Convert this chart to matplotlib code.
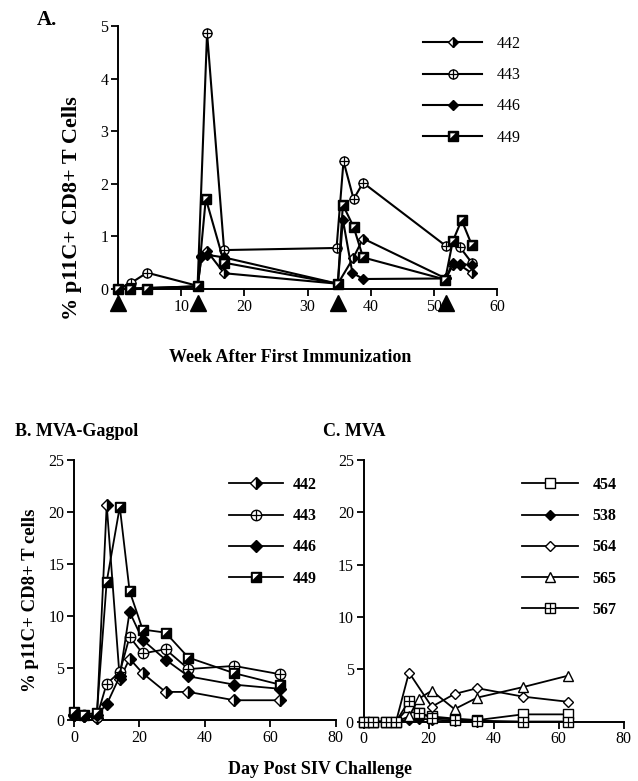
import matplotlib
matplotlib.use("Agg")
import matplotlib.pyplot as plt
from matplotlib.path import Path
import numpy as np

plt.rcParams['font.family'] = ['Liberation Serif', 'DejaVu Serif']

# ---------------- Panel A data (weeks) ----------------
weeks_442 = [0, 12.6, 13.2, 14.1, 16.8, 34.8, 37.2, 38.8, 51.9, 53.0, 54.2, 56.0]
vals_442 = [0, 0.05, 0.60, 0.72, 0.30, 0.10, 0.58, 0.96, 0.20, 0.45, 0.45, 0.30]
weeks_443 = [0, 2.0, 4.6, 12.6, 14.1, 16.8, 34.6, 35.7, 37.3, 38.8, 51.9, 53.0, 54.1, 56.0]
vals_443 = [0, 0.11, 0.31, 0.06, 4.87, 0.74, 0.78, 2.43, 1.71, 2.02, 0.82, 0.91, 0.80, 0.50]
weeks_446 = [0, 12.6, 13.2, 14.1, 16.8, 34.8, 35.6, 37.1, 38.8, 51.9, 53.0, 54.2, 56.0]
vals_446 = [0, 0.05, 0.62, 0.65, 0.60, 0.10, 1.32, 0.31, 0.19, 0.20, 0.50, 0.48, 0.45]
weeks_449 = [0, 1.9, 4.6, 12.6, 13.9, 16.8, 34.8, 35.6, 37.3, 38.8, 51.8, 53.0, 54.4, 56.0]
vals_449 = [0, 0, 0, 0.05, 1.72, 0.50, 0.10, 1.60, 1.18, 0.60, 0.18, 0.91, 1.31, 0.84]
immun_weeks = [0, 12.6, 34.8, 51.9]
labels_A = ['442', '443', '446', '449']

# ---------------- Panel B data (days) ----------------
days = [0, 3, 7, 10, 14, 17, 21, 28, 35, 49, 63]
b_442 = [0.5, 0.4, 0.2, 20.7, 3.9, 5.9, 4.5, 2.7, 2.7, 1.9, 1.9]
b_443 = [0.5, 0.5, 0.3, 3.5, 4.6, 8.0, 6.4, 6.8, 4.9, 5.2, 4.4]
b_446 = [0.5, 0.4, 0.5, 1.5, 4.2, 10.4, 7.7, 5.8, 4.2, 3.4, 3.0]
b_449 = [0.8, 0.5, 0.7, 13.3, 20.5, 12.4, 8.7, 8.4, 6.0, 4.5, 3.4]
labels_B = ['442', '443', '446', '449']

# ---------------- Panel C data (days) ----------------
c_454 = [0, 0, 0, 0, 1.4, 0.8, 0.5, 0.3, 0.15, 0.7, 0.7]
c_538 = [0, 0, 0, 0, 0.2, 0.3, 0.2, 0.1, 0.0, 0.0, 0.0]
days_564 = [0, 3, 7, 10, 14, 21, 28, 35, 49, 63]
c_564 = [0, 0, 0, 0, 4.7, 1.43, 2.65, 3.2, 2.4, 1.9]
c_565 = [0, 0, 0, 0, 0.5, 2.2, 2.96, 1.2, 2.3, 3.3, 4.4]
c_567 = [0, 0, 0, 0, 2.0, 0.8, 0.4, 0.2, 0.1, 0.0, 0.0]
labels_C = ['454', '538', '564', '565', '567']

LW = 1.3
tri_path = Path([(-1, 1), (0.6, 1), (-1, -0.6), (-1, 1)],
                [Path.MOVETO, Path.LINETO, Path.LINETO, Path.CLOSEPOLY])


def series(ax, x, y, kind, ms, lw=LW):
    common = dict(color='black', lw=lw, clip_on=False, zorder=3)
    if kind == 'halfdiamond':
        h = ax.plot(x, y, marker='D', ms=ms * 0.75, mfc='black', mfcalt='white',
                    fillstyle='right', mec='black', mew=1, **common)[0]
        return h
    if kind == 'diamond':
        return ax.plot(x, y, marker='D', ms=ms * 0.75, mfc='black', mec='black', mew=1, **common)[0]
    if kind == 'opendiamond':
        return ax.plot(x, y, marker='D', ms=ms * 0.75, mfc='white', mec='black', mew=1, **common)[0]
    if kind == 'triangle':
        return ax.plot(x, y, marker='^', ms=ms, mfc='white', mec='black', mew=1, **common)[0]
    if kind == 'square':
        return ax.plot(x, y, marker='s', ms=ms, mfc='white', mec='black', mew=1, **common)[0]
    if kind == 'oplus':
        a = ax.plot(x, y, marker='o', ms=ms, mfc='white', mec='black', mew=1, **common)[0]
        b = ax.plot(x, y, ls='none', marker='+', ms=ms, mec='black', mew=0.9, clip_on=False, zorder=4)[0]
        return (a, b)
    if kind == 'boxplus':
        a = ax.plot(x, y, marker='s', ms=ms, mfc='white', mec='black', mew=1, **common)[0]
        b = ax.plot(x, y, ls='none', marker='+', ms=ms, mec='black', mew=0.9, clip_on=False, zorder=4)[0]
        return (a, b)
    if kind == 'halfsquare':
        a = ax.plot(x, y, marker='s', ms=ms, mfc='black', mec='black', mew=1, **common)[0]
        b = ax.plot(x, y, ls='none', marker=tri_path, ms=ms * 0.7, mfc='white', mew=0,
                    clip_on=False, zorder=4)[0]
        return (a, b)


def style_axes(ax, xlim, ylim, xticks, yticks):
    ax.set_xlim(*xlim)
    ax.set_ylim(*ylim)
    ax.set_xticks(xticks)
    ax.set_yticks(yticks)
    for s in ['top', 'right']:
        ax.spines[s].set_visible(False)
    for s in ['left', 'bottom']:
        ax.spines[s].set_linewidth(1.4)
    ax.tick_params(direction='out', length=5, width=1.3, labelsize=11.5, pad=2)


fig = plt.figure(figsize=(6.38, 7.81), dpi=100)
W, H = 638.0, 781.0

# ---------------- Panel A ----------------
axA = fig.add_axes([118 / W, 1 - 289 / H, (497 - 118) / W, (289 - 26) / H])
style_axes(axA, (0, 60), (0, 5), [0, 10, 20, 30, 40, 50, 60], [0, 1, 2, 3, 4, 5])
msA = 6.5
hA = [series(axA, weeks_442, vals_442, 'halfdiamond', msA, 1.5),
      series(axA, weeks_443, vals_443, 'oplus', msA, 1.5),
      series(axA, weeks_446, vals_446, 'diamond', msA, 1.5),
      series(axA, weeks_449, vals_449, 'halfsquare', msA, 1.5)]
axA.plot(immun_weeks, [-0.26] * len(immun_weeks), ls='none', marker='^', ms=11,
         color='black', clip_on=False, zorder=6)
legA = axA.legend(hA, labels_A, loc='upper left', bbox_to_anchor=(423 / W, 1 - 36 / H),
                  bbox_transform=fig.transFigure, frameon=False, borderpad=0,
                  borderaxespad=0, handlelength=3.7, handletextpad=0.9,
                  labelspacing=0.95, fontsize=11.5)
fig.text(47 / W, 1 - 20 / H, 'A.', fontsize=15, fontweight='bold', ha='center', va='center')
fig.text(72 / W, 1 - 208 / H, '% p11C+ CD8+ T Cells', fontsize=16, fontweight='bold',
         rotation=90, ha='center', va='center')
fig.text(290 / W, 1 - 358 / H, 'Week After First Immunization', fontsize=13,
         fontweight='bold', ha='center', va='center')

# ---------------- Panel B ----------------
axB = fig.add_axes([74 / W, 1 - 720 / H, (335.6 - 74) / W, 260 / H])
style_axes(axB, (0, 80), (0, 25), [0, 20, 40, 60, 80], [0, 5, 10, 15, 20, 25])
msB = 7.5
hB = [series(axB, days, b_442, 'halfdiamond', msB),
      series(axB, days, b_443, 'oplus', msB),
      series(axB, days, b_446, 'diamond', msB),
      series(axB, days, b_449, 'halfsquare', msB)]
axB.legend(hB, labels_B, loc='upper left', bbox_to_anchor=(229 / W, 1 - 477 / H),
           bbox_transform=fig.transFigure, frameon=False, borderpad=0,
           borderaxespad=0, handlelength=3.4, handletextpad=0.6,
           labelspacing=0.95, prop={'weight': 'bold', 'size': 11.5})
fig.text(15 / W, 1 - 431 / H, 'B. MVA-Gagpol', fontsize=13, fontweight='bold',
         ha='left', va='center')
fig.text(31 / W, 1 - 600 / H, '% p11C+ CD8+ T cells', fontsize=13.5, fontweight='bold',
         rotation=90, ha='center', va='center')

# ---------------- Panel C ----------------
axC = fig.add_axes([363.5 / W, 1 - 721.7 / H, 260 / W, 261.7 / H])
style_axes(axC, (0, 80), (0, 25), [0, 20, 40, 60, 80], [0, 5, 10, 15, 20, 25])
msC = 7
hC = [series(axC, days, c_454, 'square', msC),
      series(axC, days, c_538, 'diamond', msC),
      series(axC, days_564, c_564, 'opendiamond', msC),
      series(axC, days, c_565, 'triangle', msC),
      series(axC, days, c_567, 'boxplus', msC)]
axC.legend(hC, labels_C, loc='upper left', bbox_to_anchor=(522 / W, 1 - 477 / H),
           bbox_transform=fig.transFigure, frameon=False, borderpad=0,
           borderaxespad=0, handlelength=3.5, handletextpad=0.9,
           labelspacing=0.95, prop={'weight': 'bold', 'size': 11.5})
fig.text(323 / W, 1 - 431 / H, 'C. MVA', fontsize=13, fontweight='bold',
         ha='left', va='center')
fig.text(320 / W, 1 - 770 / H, 'Day Post SIV Challenge', fontsize=13, fontweight='bold',
         ha='center', va='center')

fig.savefig('out.png', dpi=100)
